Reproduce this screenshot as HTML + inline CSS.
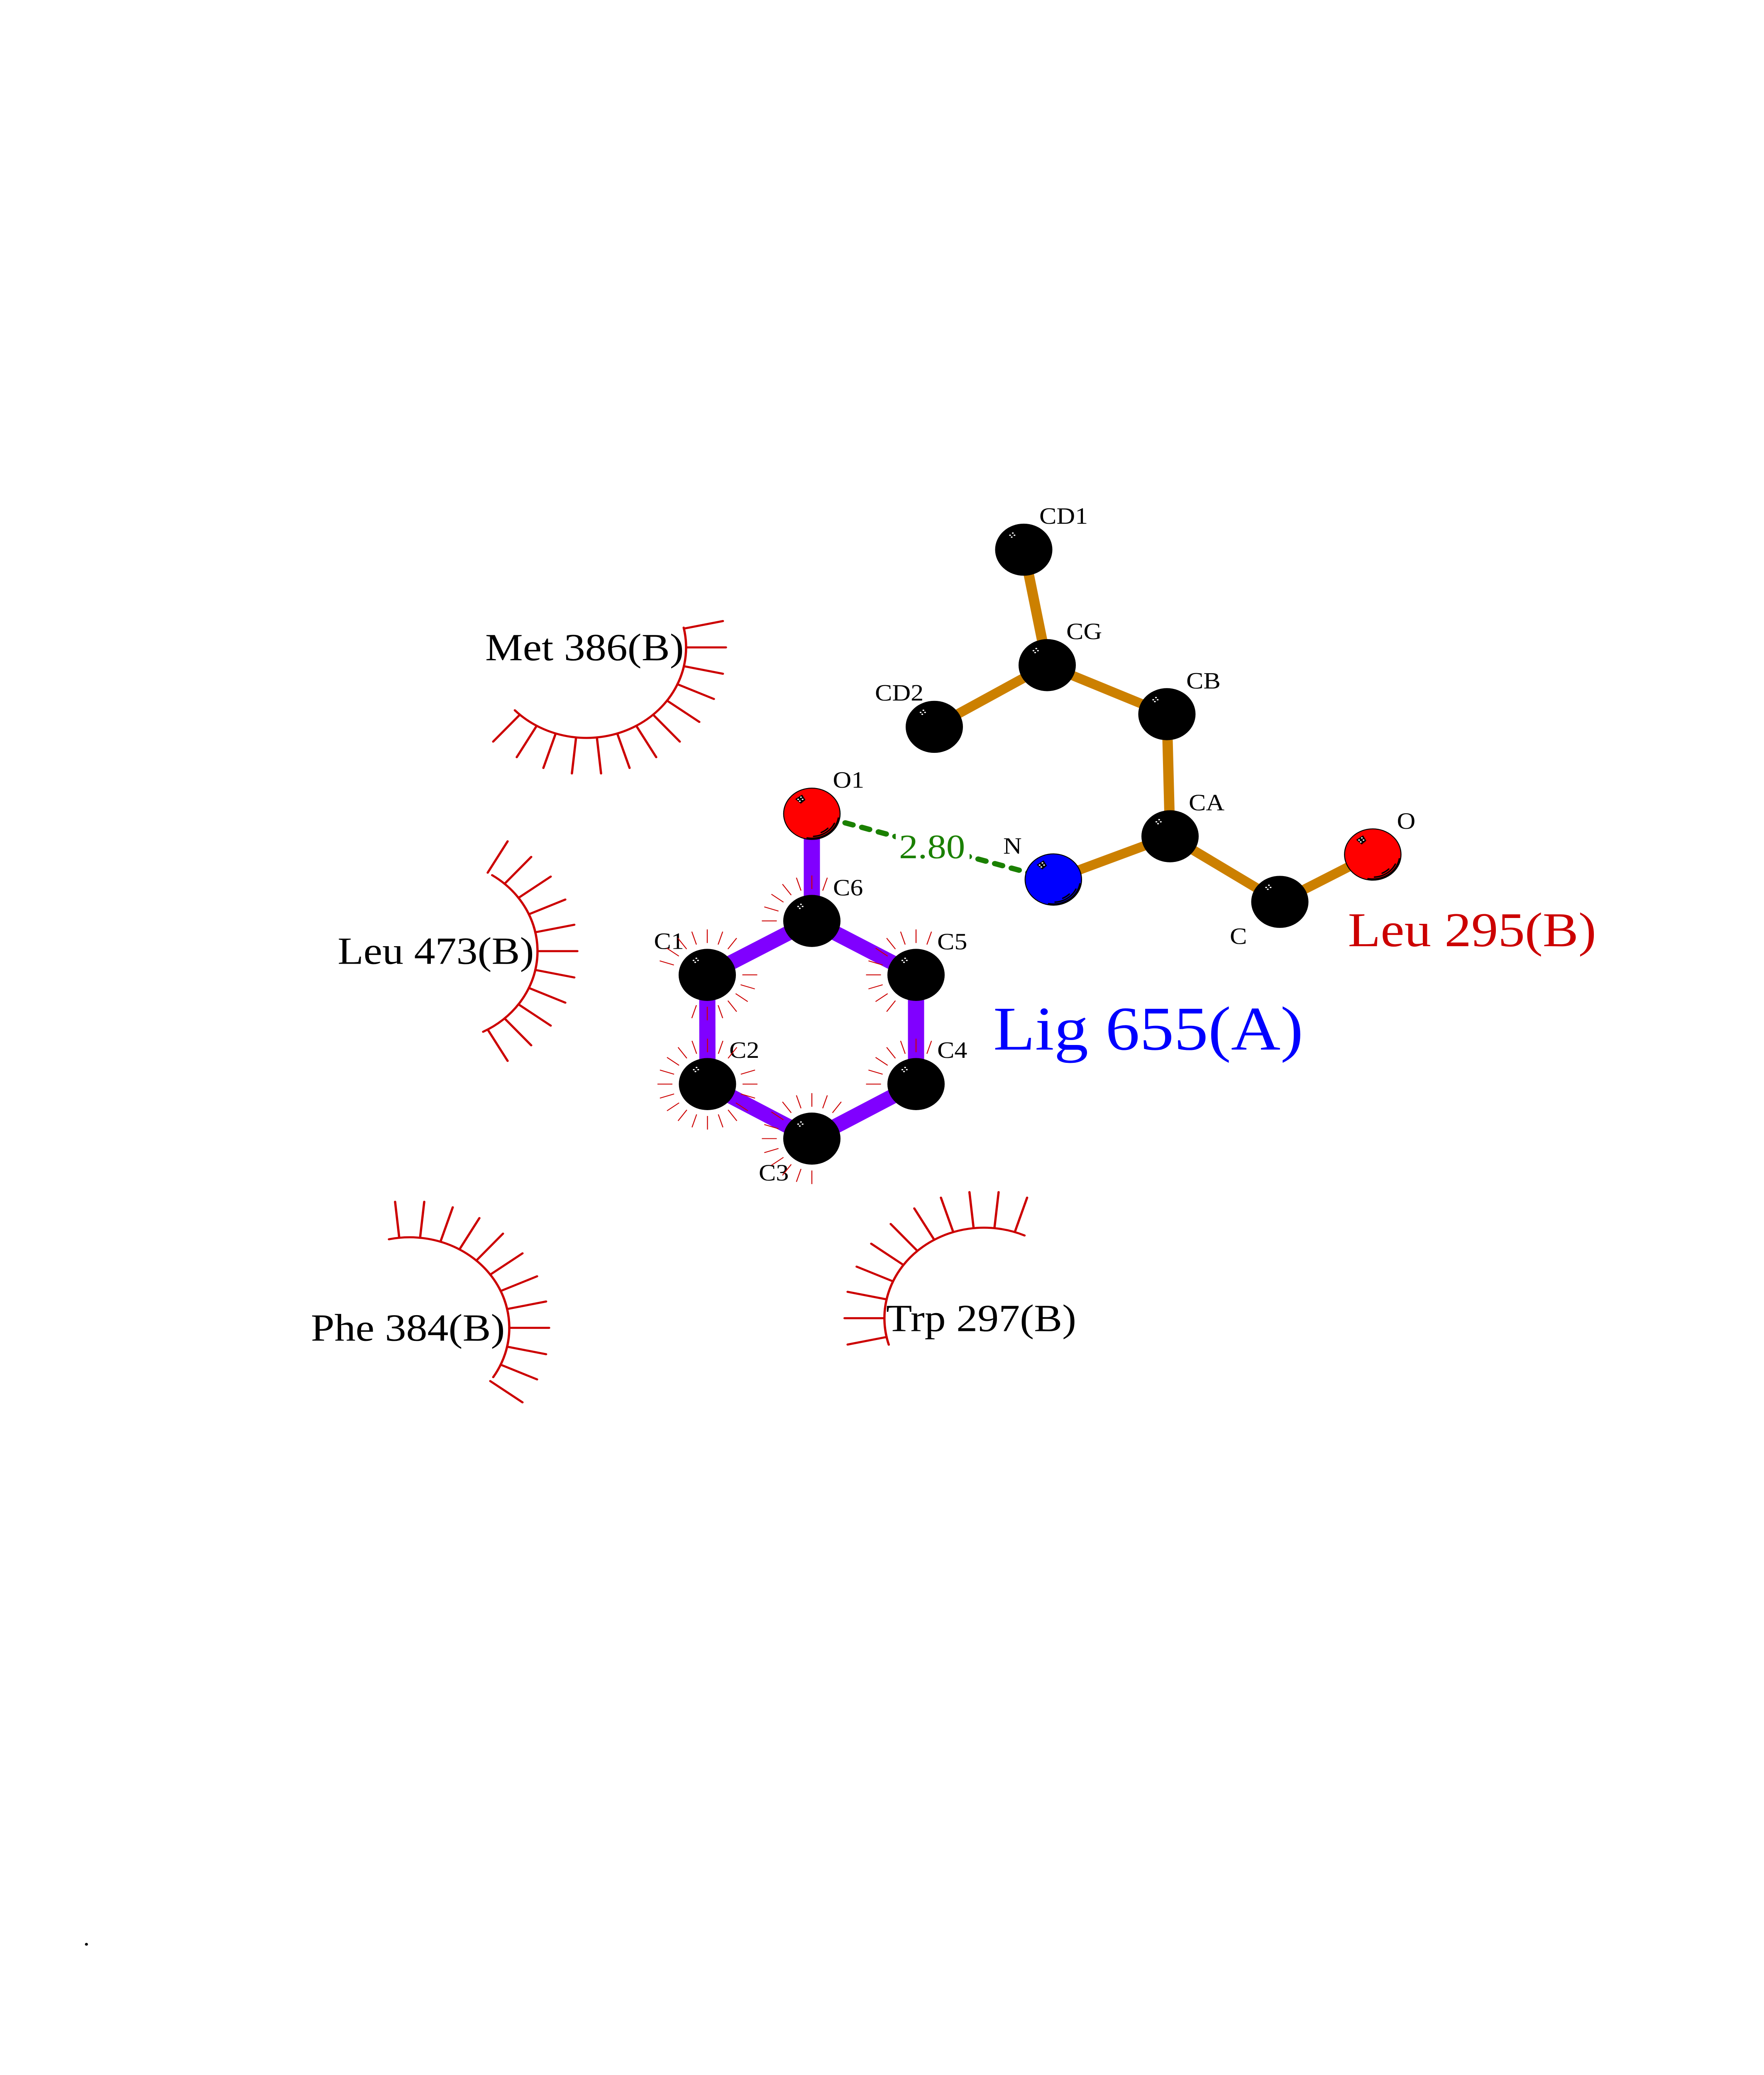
<!DOCTYPE html>
<html>
<head>
<meta charset="utf-8">
<title>Ligand interaction diagram</title>
<style>
html,body{margin:0;padding:0;background:#fff}
svg{display:block;width:100vw;height:100vh}
text{font-family:"Liberation Serif",serif;text-rendering:geometricPrecision}
.a{font-size:62px;fill:#000}
.r{font-size:102px;fill:#000}
</style>
</head>
<body>
<svg xmlns="http://www.w3.org/2000/svg" viewBox="0 0 4250 5500" preserveAspectRatio="none">
<defs>
<line id="s" x1="240" y1="0" x2="336" y2="0" stroke="#cc0000" stroke-width="5.5" stroke-linecap="round"/>
<line id="t" x1="84.5" y1="0" x2="120.5" y2="0" stroke="#cc0000" stroke-width="2.3"/>
<g id="dots" fill="#fff">
<ellipse cx="-26.3" cy="-44" rx="2.2" ry="1.8"/>
<ellipse cx="-33" cy="-38.3" rx="2.2" ry="1.8"/>
<ellipse cx="-22.3" cy="-38.3" rx="2.2" ry="1.8"/>
<ellipse cx="-29" cy="-33.3" rx="2.2" ry="1.8"/>
</g>
<g id="blk"><circle r="69" fill="#000"/><use href="#dots"/></g>
<g id="shine">
<polygon points="-23.5,-50.7 -15.5,-36.7 -26.7,-26.7 -40,-39" fill="#000"/>
<use href="#dots"/>
<g fill="none" stroke="#000" stroke-width="3.6" stroke-linecap="round">
<path d="M64 11.3A65 65 0 0 1 -11.3 64"/>
<path d="M54.4 25.4A60 60 0 0 1 4.2 59.9"/>
<path d="M38.5 38.5A54.5 54.5 0 0 1 22.6 49.6"/>
</g>
</g>
</defs>

<!-- ligand bonds -->
<g stroke="#8000ff" stroke-width="39" fill="none">
<line x1="1956" y1="2157" x2="1956" y2="2441"/>
<line x1="1956" y1="2441" x2="1704" y2="2584"/>
<line x1="1956" y1="2441" x2="2207" y2="2584"/>
<line x1="1704" y1="2584" x2="1704.5" y2="2873.5"/>
<line x1="2207" y1="2584" x2="2207" y2="2873.5"/>
<line x1="1704.5" y1="2873.5" x2="1956" y2="3018"/>
<line x1="2207" y1="2873.5" x2="1956" y2="3018"/>
</g>

<!-- residue bonds -->
<g stroke="#cc8000" stroke-width="25" fill="none">
<line x1="2466.5" y1="1457" x2="2523" y2="1763"/>
<line x1="2251" y1="1926.6" x2="2523" y2="1763"/>
<line x1="2523" y1="1763" x2="2811.4" y2="1893"/>
<line x1="2811.4" y1="1893" x2="2819" y2="2216.6"/>
<line x1="2819" y1="2216.6" x2="2537.8" y2="2331.3"/>
<line x1="2819" y1="2216.6" x2="3083.5" y2="2390.5"/>
<line x1="3083.5" y1="2390.5" x2="3307.4" y2="2265"/>
</g>

<!-- hydrogen bond -->
<line x1="2036.5" y1="2181" x2="2537.8" y2="2331.3" stroke="#1a8000" stroke-width="14" stroke-linecap="round" stroke-dasharray="19 22.8"/>
<rect x="2158" y="2190" width="178" height="110" fill="#fff"/>
<text x="2166" y="2275" font-size="91" fill="#1a8000">2.80</text>

<!-- atoms -->
<use href="#blk" x="1956" y="2441"/>
<use href="#blk" x="1704" y="2584"/>
<use href="#blk" x="2207" y="2584"/>
<use href="#blk" x="1704.5" y="2873.5"/>
<use href="#blk" x="2207" y="2873.5"/>
<use href="#blk" x="1956" y="3018"/>
<use href="#blk" x="2466.5" y="1457"/>
<use href="#blk" x="2523" y="1763"/>
<use href="#blk" x="2251" y="1926.6"/>
<use href="#blk" x="2811.4" y="1893"/>
<use href="#blk" x="2819" y="2216.6"/>
<use href="#blk" x="3083.5" y="2390.5"/>
<g transform="translate(1956 2157)"><circle r="68" fill="#ff0000" stroke="#000" stroke-width="2.5"/><use href="#shine"/></g>
<g transform="translate(3307.4 2265)"><circle r="68" fill="#ff0000" stroke="#000" stroke-width="2.5"/><use href="#shine"/></g>
<g transform="translate(2537.8 2331.3)"><circle r="68" fill="#0000ff" stroke="#000" stroke-width="2.5"/><use href="#shine"/></g>

<!-- atom labels -->
<text class="a" x="2006.5" y="2088">O1</text>
<text class="a" x="2007" y="2373">C6</text>
<text class="a" x="2258" y="2516">C5</text>
<text class="a" x="1575.5" y="2515">C1</text>
<text class="a" x="1757" y="2804">C2</text>
<text class="a" x="2258" y="2804">C4</text>
<text class="a" x="1828" y="3129">C3</text>
<text class="a" x="2504" y="1388">CD1</text>
<text class="a" x="2569" y="1694">CG</text>
<text class="a" x="2108" y="1857">CD2</text>
<text class="a" x="2858" y="1825">CB</text>
<text class="a" x="2864" y="2148">CA</text>
<text class="a" x="2417" y="2262.5">N</text>
<text class="a" x="3365.5" y="2196.7">O</text>
<text class="a" x="2963" y="2501.7">C</text>

<!-- residue labels -->
<text class="r" x="1169" y="1750">Met 386(B)</text>
<text class="r" x="813.5" y="2555">Leu 473(B)</text>
<text class="r" x="749" y="3553.6">Phe 384(B)</text>
<text class="r" x="2135" y="3528">Trp 297(B)</text>
<text x="3247.5" y="2508" font-size="129" fill="#cc0000">Leu 295(B)</text>
<text x="2393" y="2782" font-size="165" fill="#0000ff">Lig 655(A)</text>
<text x="200.5" y="5156" font-size="62" fill="#000">.</text>

<!-- hydrophobic arcs -->
<g fill="none" stroke="#cc0000" stroke-width="5.5" stroke-linecap="round">
<path d="M1647.2 1663.6A240 240 0 0 1 1240.4 1882.7"/>
<path d="M1185.7 2319.7A240 240 0 0 1 1164 2734.8"/>
<path d="M937.1 3284.8A240 240 0 0 1 1188.3 3650.3"/>
<path d="M2468.4 3274.8A240 240 0 0 0 2141.3 3564.2"/>
</g>

<g transform="translate(1413 1716)">
<use href="#s" transform="rotate(-12)"/><use href="#s"/><use href="#s" transform="rotate(12)"/><use href="#s" transform="rotate(24)"/><use href="#s" transform="rotate(36)"/><use href="#s" transform="rotate(48)"/><use href="#s" transform="rotate(60)"/><use href="#s" transform="rotate(72)"/><use href="#s" transform="rotate(84)"/><use href="#s" transform="rotate(96)"/><use href="#s" transform="rotate(108)"/><use href="#s" transform="rotate(120)"/><use href="#s" transform="rotate(132)"/>
</g>
<g transform="translate(1055 2521)">
<use href="#s" transform="rotate(-60)"/><use href="#s" transform="rotate(-48)"/><use href="#s" transform="rotate(-36)"/><use href="#s" transform="rotate(-24)"/><use href="#s" transform="rotate(-12)"/><use href="#s"/><use href="#s" transform="rotate(12)"/><use href="#s" transform="rotate(24)"/><use href="#s" transform="rotate(36)"/><use href="#s" transform="rotate(48)"/><use href="#s" transform="rotate(60)"/>
</g>
<g transform="translate(987 3519.6)">
<use href="#s" transform="rotate(-96)"/><use href="#s" transform="rotate(-84)"/><use href="#s" transform="rotate(-72)"/><use href="#s" transform="rotate(-60)"/><use href="#s" transform="rotate(-48)"/><use href="#s" transform="rotate(-36)"/><use href="#s" transform="rotate(-24)"/><use href="#s" transform="rotate(-12)"/><use href="#s"/><use href="#s" transform="rotate(12)"/><use href="#s" transform="rotate(24)"/><use href="#s" transform="rotate(36)"/>
</g>
<g transform="translate(2370.8 3494)">
<use href="#s" transform="rotate(-72)"/><use href="#s" transform="rotate(-84)"/><use href="#s" transform="rotate(-96)"/><use href="#s" transform="rotate(-108)"/><use href="#s" transform="rotate(-120)"/><use href="#s" transform="rotate(-132)"/><use href="#s" transform="rotate(-144)"/><use href="#s" transform="rotate(-156)"/><use href="#s" transform="rotate(-168)"/><use href="#s" transform="rotate(-180)"/><use href="#s" transform="rotate(-192)"/>
</g>

<!-- atom contact starbursts -->
<g transform="translate(1956 2441)">
<use href="#t" transform="rotate(-72)"/><use href="#t" transform="rotate(-90)"/><use href="#t" transform="rotate(-108)"/><use href="#t" transform="rotate(-126)"/><use href="#t" transform="rotate(-144)"/><use href="#t" transform="rotate(-162)"/><use href="#t" transform="rotate(180)"/>
</g>
<g transform="translate(1704 2584)">
<use href="#t" transform="rotate(-162)"/><use href="#t" transform="rotate(-144)"/><use href="#t" transform="rotate(-126)"/><use href="#t" transform="rotate(-108)"/><use href="#t" transform="rotate(-90)"/><use href="#t" transform="rotate(-72)"/><use href="#t" transform="rotate(-54)"/><use href="#t"/><use href="#t" transform="rotate(18)"/><use href="#t" transform="rotate(36)"/><use href="#t" transform="rotate(54)"/><use href="#t" transform="rotate(72)"/><use href="#t" transform="rotate(90)"/><use href="#t" transform="rotate(108)"/>
</g>
<g transform="translate(2207 2584)">
<use href="#t" transform="rotate(-72)"/><use href="#t" transform="rotate(-90)"/><use href="#t" transform="rotate(-108)"/><use href="#t" transform="rotate(-126)"/><use href="#t" transform="rotate(-144)"/><use href="#t" transform="rotate(-162)"/><use href="#t" transform="rotate(180)"/><use href="#t" transform="rotate(162)"/><use href="#t" transform="rotate(144)"/><use href="#t" transform="rotate(126)"/>
</g>
<g transform="translate(1704.5 2873.5)">
<use href="#t" transform="rotate(-90)"/><use href="#t" transform="rotate(-72)"/><use href="#t" transform="rotate(-54)"/><use href="#t" transform="rotate(-18)"/><use href="#t"/><use href="#t" transform="rotate(18)"/><use href="#t" transform="rotate(36)"/><use href="#t" transform="rotate(54)"/><use href="#t" transform="rotate(72)"/><use href="#t" transform="rotate(90)"/><use href="#t" transform="rotate(108)"/><use href="#t" transform="rotate(126)"/><use href="#t" transform="rotate(144)"/><use href="#t" transform="rotate(162)"/><use href="#t" transform="rotate(180)"/><use href="#t" transform="rotate(-162)"/><use href="#t" transform="rotate(-144)"/><use href="#t" transform="rotate(-126)"/><use href="#t" transform="rotate(-108)"/>
</g>
<g transform="translate(2207 2873.5)">
<use href="#t" transform="rotate(-72)"/><use href="#t" transform="rotate(-90)"/><use href="#t" transform="rotate(-108)"/><use href="#t" transform="rotate(-126)"/><use href="#t" transform="rotate(-144)"/><use href="#t" transform="rotate(-162)"/><use href="#t" transform="rotate(180)"/>
</g>
<g transform="translate(1956 3018)">
<use href="#t" transform="rotate(-54)"/><use href="#t" transform="rotate(-72)"/><use href="#t" transform="rotate(-90)"/><use href="#t" transform="rotate(-108)"/><use href="#t" transform="rotate(-126)"/><use href="#t" transform="rotate(-144)"/><use href="#t" transform="rotate(-162)"/><use href="#t" transform="rotate(180)"/><use href="#t" transform="rotate(162)"/><use href="#t" transform="rotate(144)"/><use href="#t" transform="rotate(126)"/><use href="#t" transform="rotate(108)"/><use href="#t" transform="rotate(90)"/>
</g>
</svg>
</body>
</html>
